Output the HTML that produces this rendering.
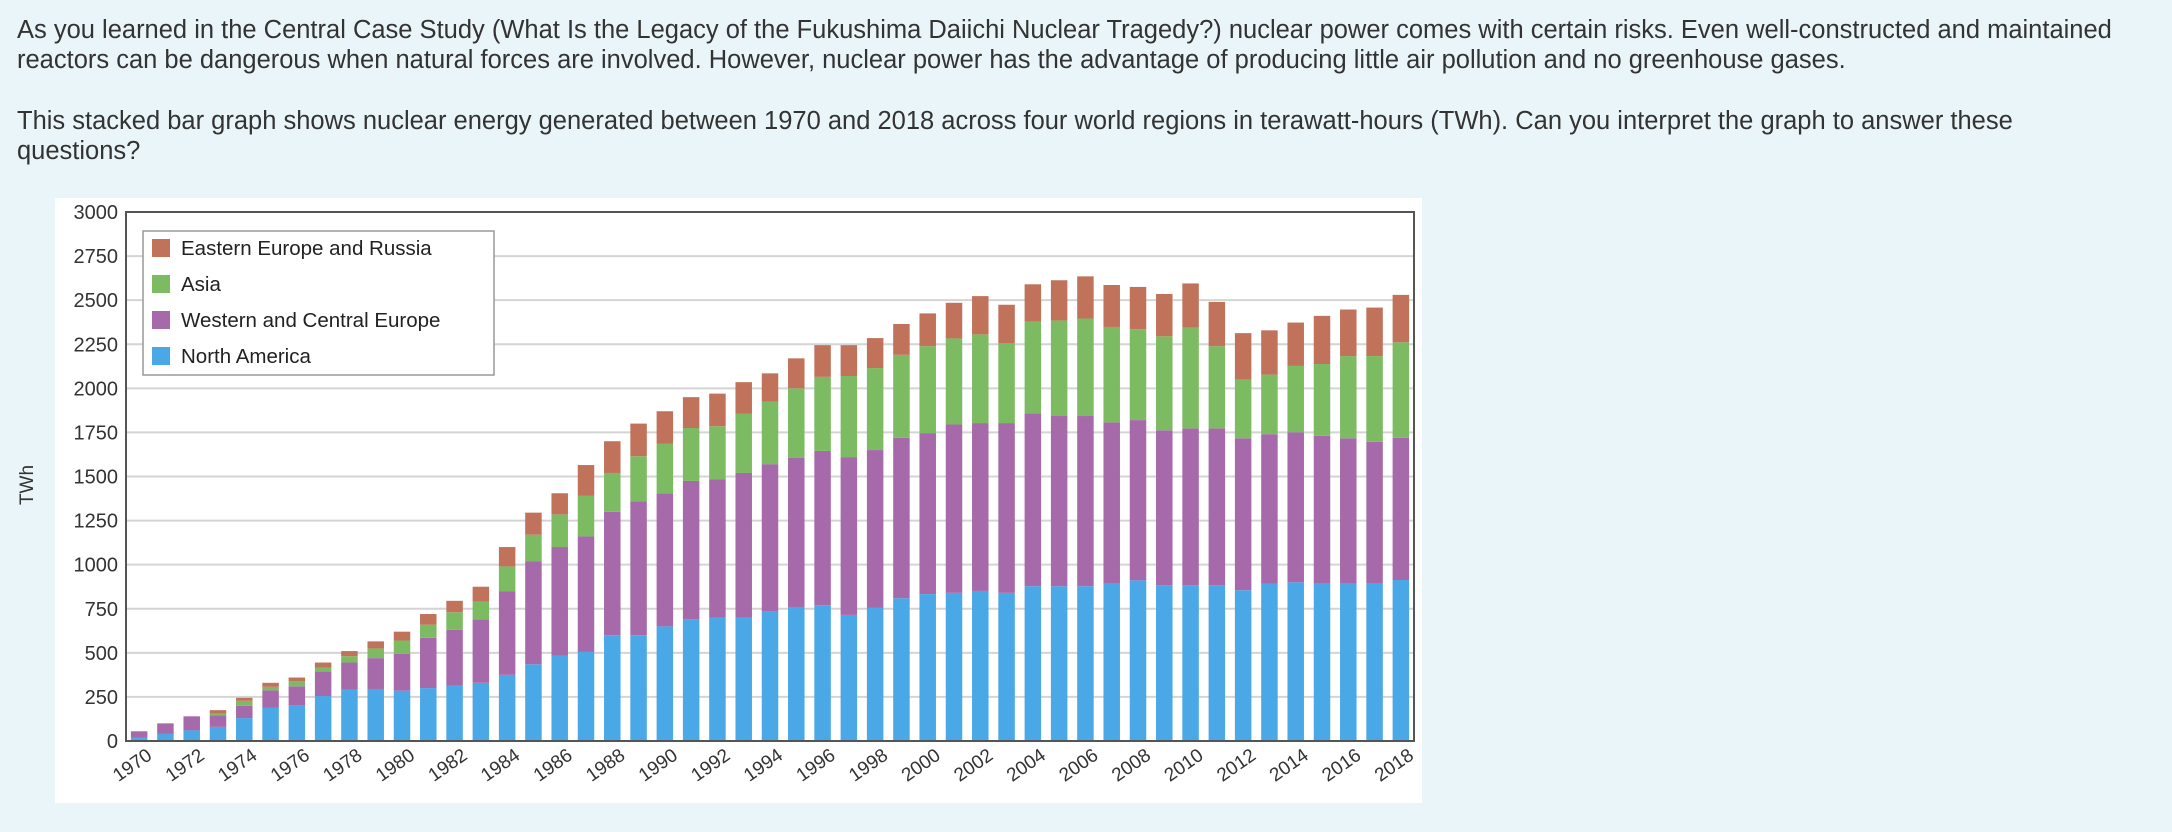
<!DOCTYPE html>
<html><head><meta charset="utf-8"><style>
body{margin:0;width:2172px;height:832px;background:#e9f5f8;font-family:"Liberation Sans",sans-serif;overflow:hidden;position:relative}
p{position:absolute;left:17px;margin:0;font-size:25.5px;line-height:30px;color:#333;width:2150px}
</style></head><body>
<p style="top:15px">As you learned in the Central Case Study (What Is the Legacy of the Fukushima Daiichi Nuclear Tragedy?) nuclear power comes with certain risks. Even well-constructed and maintained reactors can be dangerous when natural forces are involved. However, nuclear power has the advantage of producing little air pollution and no greenhouse gases.</p>
<p style="top:106px;width:2060px">This stacked bar graph shows nuclear energy generated between 1970 and 2018 across four world regions in terawatt-hours (TWh). Can you interpret the graph to answer these questions?</p>
<svg id="chart" width="2172" height="832" style="position:absolute;left:0;top:0" xmlns="http://www.w3.org/2000/svg"></svg>
<script>
const years=[];for(let y=1970;y<=2018;y++)years.push(y);
const northAmerica=[20,40,60,80,130,190,200,255,290,295,285,300,315,330,375,435,485,505,600,600,650,690,700,700,735,760,770,715,757,810,833,840,851,840,878,878,878,896,911,884,884,884,855,891,900,896,896,896,913];
const westernEurope=[35,60,80,65,70,97,110,140,155,175,210,285,315,360,475,585,615,655,700,760,755,785,785,820,835,845,875,895,893,910,913,955,952,963,980,965,965,911,909,878,889,889,862,849,851,835,821,801,807];
const asia=[0,0,0,10,28,20,30,20,36,55,75,75,100,100,140,150,185,230,220,255,280,300,300,335,355,395,420,460,465,470,493,488,503,454,520,542,553,541,515,533,571,466,332,338,376,407,466,486,541];
const easternEurope=[0,0,0,20,17,23,20,30,29,40,50,60,65,85,110,125,120,175,180,185,185,175,185,180,160,170,180,175,170,175,186,202,217,217,212,228,239,238,240,240,251,251,264,251,246,273,264,275,269];
const yTicks=[0,250,500,750,1000,1250,1500,1750,2000,2250,2500,2750,3000];
const seriesNames=["North America","Western and Central Europe","Asia","Eastern Europe and Russia"];
const colors=["#4aa8e6","#a66aaa","#7dbb62","#c0735a"];
const svg=document.getElementById('chart');const NS='http://www.w3.org/2000/svg';
const L=126,R=1414,T=212,B=741,YMAX=3000;
const band=(R-L)/years.length,bw=16.5;
const y=v=>B-v/YMAX*(B-T);
const x=i=>L+band*i+band/2;
function mk(tag,attrs,parent){const e=document.createElementNS(NS,tag);for(const k in attrs)e.setAttribute(k,attrs[k]);(parent||svg).appendChild(e);return e;}
const bg=mk('rect',{x:55,y:198,width:1367,height:605,fill:'#fff'});


yTicks.forEach(t=>{
 const g=mk('line',{x1:L,x2:R,y1:y(t),y2:y(t),stroke:'#d4d4d4','stroke-width':2});
 
 
 const tx=mk('text',{x:L-8,y:y(t)+7,'text-anchor':'end','font-size':20,fill:'#333','font-family':'Liberation Sans'});
 tx.textContent=t;
 
 
});
const series=[northAmerica,westernEurope,asia,easternEurope];
years.forEach((yr,i)=>{
 let base=0;
 series.forEach((s,k)=>{
  const v=s[i];if(v<=0)return;
  const r=mk('rect',{x:x(i)-bw/2,y:y(base+v),width:bw,height:y(base)-y(base+v),fill:colors[k]});
  
  
  base+=v;
 });
 if(yr%2===0){
  const tx=mk('text',{'text-anchor':'end','font-size':19,fill:'#333','font-family':'Liberation Sans',transform:`translate(${x(i)+14},${B+17}) rotate(-35)`});
  tx.textContent=yr;
  
  
 }
});
const frame=mk('rect',{x:L,y:T,width:R-L,height:B-T,fill:'none',stroke:'#555','stroke-width':2});


const yt=mk('text',{transform:'translate(33,485) rotate(-90)','text-anchor':'middle','font-size':19,fill:'#333','font-family':'Liberation Sans'});
yt.textContent='TWh';


const lg=mk('g',{});


mk('rect',{x:143,y:231,width:351,height:144,fill:'#fff',stroke:'#999','stroke-width':1.5},lg);
[3,2,1,0].forEach((k,j)=>{
 const cy=248+j*36;
 const sw=mk('rect',{x:152,y:cy-9,width:18,height:18,fill:colors[k]},lg);
 
 
 const t=mk('text',{x:181,y:cy+7,'font-size':20.5,fill:'#222','font-family':'Liberation Sans'},lg);
 t.textContent=seriesNames[k];
 
 
});
</script>
</body></html>
